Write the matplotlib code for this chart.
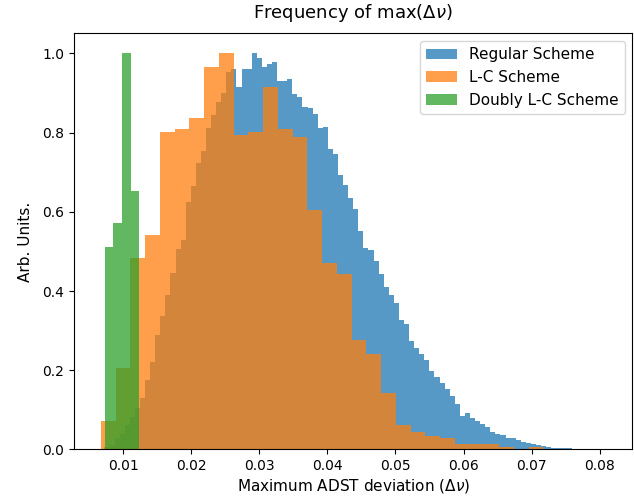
import numpy as np
import matplotlib
matplotlib.use("Agg")
import matplotlib.pyplot as plt

# ── Normalised histogram counts (peak = 1) ───────────────────────────────────

# Regular scheme: 100 equal bins
regular_edges = np.linspace(0.00648, 0.0811, 101)
regular_heights = [
    0.002, 0.006, 0.012, 0.028, 0.040, 0.061, 0.082, 0.105, 0.130, 0.175,
    0.221, 0.289, 0.337, 0.390, 0.446, 0.506, 0.529, 0.625, 0.666, 0.722,
    0.753, 0.811, 0.844, 0.876, 0.899, 0.954, 0.960, 0.916, 0.960, 0.960,
    1.000, 0.987, 0.965, 0.973, 0.979, 0.931, 0.931, 0.934, 0.897, 0.890,
    0.865, 0.862, 0.848, 0.812, 0.814, 0.758, 0.746, 0.694, 0.667, 0.634,
    0.606, 0.552, 0.509, 0.504, 0.476, 0.444, 0.411, 0.390, 0.370, 0.328,
    0.316, 0.273, 0.257, 0.240, 0.225, 0.199, 0.182, 0.168, 0.152, 0.135,
    0.114, 0.085, 0.091, 0.079, 0.071, 0.065, 0.056, 0.044, 0.039, 0.037,
    0.030, 0.028, 0.023, 0.019, 0.017, 0.013, 0.012, 0.008, 0.007, 0.005,
    0.005, 0.003, 0.003, 0.002, 0.0005, 0.0003, 0.0, 0.0002, 0.0, 0.0002,
]

# L-C scheme: 30 bins
lc_edges = np.linspace(0.00669, 0.07174, 31)
lc_heights = [
    0.071, 0.206, 0.484, 0.541, 0.802, 0.809, 0.837, 0.965, 1.000, 0.794,
    0.802, 0.916, 0.809, 0.788, 0.604, 0.470, 0.442, 0.276, 0.242, 0.143,
    0.063, 0.043, 0.034, 0.029, 0.015, 0.015, 0.015, 0.006, 0.0, 0.007,
]

# Doubly L-C scheme: 4 bins
dlc_edges = np.linspace(0.00728, 0.01232, 5)
dlc_heights = [0.512, 0.572, 1.000, 0.652]

labels = ["Regular Scheme", "L-C Scheme", "Doubly L-C Scheme"]


fig = plt.figure(figsize=(6.34, 4.97), dpi=100)
ax = fig.add_axes([0.1167, 0.0956, 0.8806, 0.837])

for edges, heights, label in [
    (regular_edges, regular_heights, labels[0]),
    (lc_edges, lc_heights, labels[1]),
    (dlc_edges, dlc_heights, labels[2]),
]:
    ax.hist(edges[:-1], bins=edges, weights=heights,
            histtype="stepfilled", alpha=0.75, label=label)

ax.set_xlim(0.00275, 0.0848)
ax.set_ylim(0, 1.05)
ax.set_title(r"Frequency of max($\Delta\nu$)", fontsize=13, pad=11)
ax.set_xlabel(r"Maximum ADST deviation ($\Delta\nu$)", fontsize=11, labelpad=3)
ax.set_ylabel("Arb. Units.", fontsize=11, labelpad=7)
ax.legend(loc="upper right", fontsize=11)

fig.savefig("out.png", dpi=100)
